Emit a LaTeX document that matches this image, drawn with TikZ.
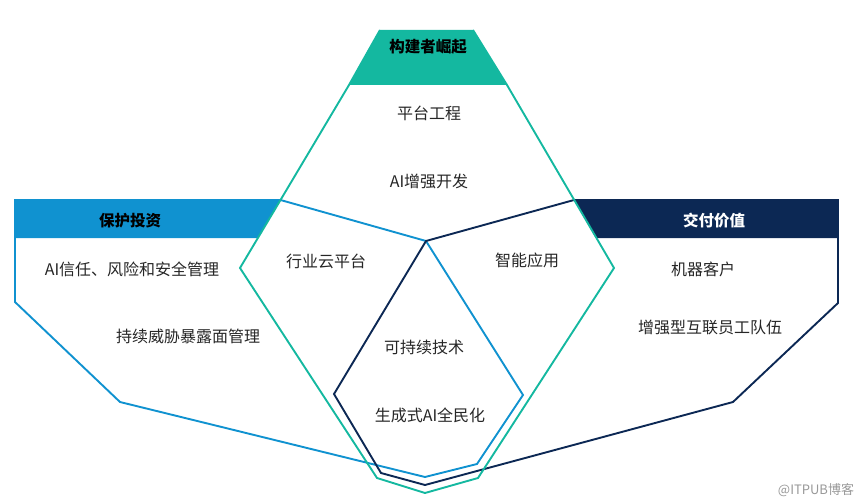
\documentclass[tikz,border=0pt]{standalone}
\usepackage{fontspec}
\setmainfont{Noto Sans CJK SC}

\definecolor{tealc}{RGB}{20,184,160}
\definecolor{bluec}{RGB}{16,146,208}
\definecolor{navyc}{RGB}{12,40,84}

\begin{document}
\begin{tikzpicture}[x=1pt, y=-1pt,
  txt/.style={font=\fontsize{16}{19}\selectfont, text=black!85},
  hd/.style={font=\fontsize{15.5}{18}\selectfont\bfseries}]

\useasboundingbox (0,0) rectangle (865,503);

% header bands
\fill[tealc] (380,30) -- (473,30) -- (507,85) -- (349,85) -- cycle;
\fill[bluec] (15,200) -- (280.5,200) -- (258,238) -- (15,238) -- cycle;
\fill[navyc] (574,200) -- (838,200) -- (838,238) -- (596,238) -- cycle;

\coordinate (mid) at (426,241);

% outlines
\draw[bluec, line width=1.9pt] (15,200) -- (280.5,200) -- (mid) -- (523,395) -- (477,464) -- (425,477) -- (120,402) -- (15,302) -- cycle;
\draw[navyc, line width=1.9pt] (838,200) -- (574,200) -- (mid) -- (334,394) -- (381,473) -- (425,485) -- (733,402) -- (838,303) -- cycle;
\draw[tealc, line width=1.9pt] (380,30) -- (349,85) -- (240,268) -- (377,478) -- (425,493) -- (478,478) -- (614,268) -- (507,85) -- (473,30);

% texts
\node[hd] (builder) at (428,47) {构建者崛起};
\node[txt] (platform) at (429,113) {平台工程};
\node[txt] (aidev) at (429,181) {AI增强开发};

\node[hd] (protect) at (130,221) {保护投资};
\node[txt] (aitrust) at (132,269) {AI信任、风险和安全管理};
\node[txt] (ctem) at (188,336) {持续威胁暴露面管理};

\node[hd, text=white] (deliver) at (714,221) {交付价值};
\node[txt] (machine) at (703,269) {机器客户};
\node[txt] (workforce) at (710,327) {增强型互联员工队伍};

\node[txt] (cloud) at (326,261) {行业云平台};
\node[txt] (smartapp) at (527,260) {智能应用};
\node[txt] (sustain) at (424,347) {可持续技术};
\node[txt] (genai) at (430,415) {生成式AI全民化};

\node[font=\fontsize{13}{15}\selectfont, text=black!40] (mark) at (816,490) {@ITPUB博客};

\end{tikzpicture}
\end{document}
